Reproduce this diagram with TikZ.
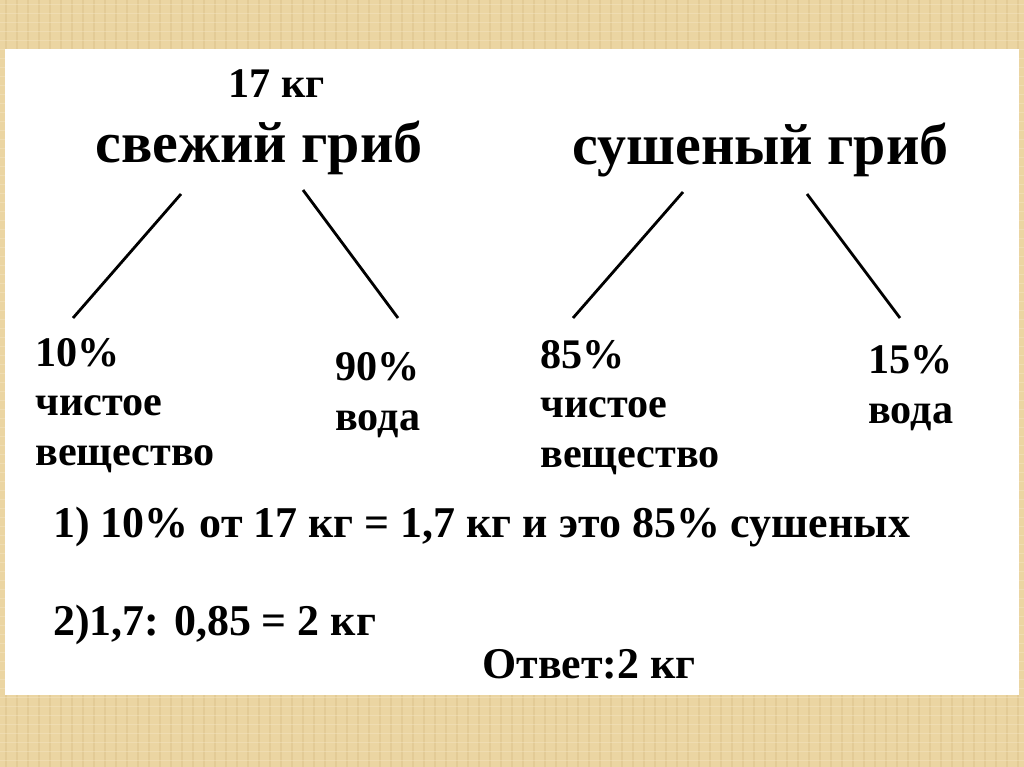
\documentclass[tikz,border=0pt]{standalone}
\usepackage{fontspec}
\setmainfont{Liberation Serif}
\definecolor{paper}{HTML}{EBD5A2}
\definecolor{paperdark}{HTML}{D9BE84}
\definecolor{paperlight}{HTML}{F4E6C4}

\tikzset{
  title/.style={anchor=base west,inner sep=0pt,font=\fontsize{33}{38}\selectfont\bfseries},
  weight/.style={anchor=base west,inner sep=0pt,font=\fontsize{24}{28}\selectfont\bfseries},
  part/.style={anchor=base west,inner sep=0pt,align=left,font=\fontsize{24}{28}\selectfont\bfseries},
  calc/.style={anchor=base west,inner sep=0pt,font=\fontsize{25}{28}\selectfont\bfseries},
  branch/.style={line width=1.6pt}
}

\begin{document}
\begin{tikzpicture}[x=0.02cm,y=-0.02cm]
\useasboundingbox (0,0) rectangle (1024,767);
% textured frame
\fill[paper] (0,0) rectangle (1024,767);
\foreach \i in {6,17,...,1024} \draw[paperdark,opacity=0.4,line width=0.7pt] (\i,0) -- (\i,767);
\foreach \i in {4,13,...,767} \draw[paperlight,opacity=0.45,line width=0.5pt] (0,\i) -- (1024,\i);
\fill[white] (5,49) rectangle (1019,695);

\node[weight] (mass) at (228,97) {17 кг};
\node[title] (fresh) at (95,162) {свежий гриб};
\node[title] (dried) at (572,164) {сушеный гриб};

% base anchor of a multi-line node is its last line
\node[part] (fdry) at (35,465) {10\%\\чистое\\вещество};
\node[part] (fwater) at (335,430) {90\%\\вода};
\node[part] (ddry) at (540,467) {85\%\\чистое\\вещество};
\node[part] (dwater) at (868,423) {15\%\\вода};

\coordinate (f1) at (181,194);
\coordinate (f2) at (73,318);
\coordinate (f3) at (303,190);
\coordinate (f4) at (398,318);
\coordinate (d1) at (683,192);
\coordinate (d2) at (573,318);
\coordinate (d3) at (807,194);
\coordinate (d4) at (900,318);
\draw[branch] (f1) -- (f2);
\draw[branch] (f3) -- (f4);
\draw[branch] (d1) -- (d2);
\draw[branch] (d3) -- (d4);

\node[calc] (step1) at (53,537) {1) 10\% от 17 кг = 1,7 кг и это 85\% сушеных};
\node[calc] (step2) at (53,635) {2)1,7: 0,85 = 2 кг};
\node[calc] (answer) at (482,678) {Ответ:2 кг};
\end{tikzpicture}
\end{document}
